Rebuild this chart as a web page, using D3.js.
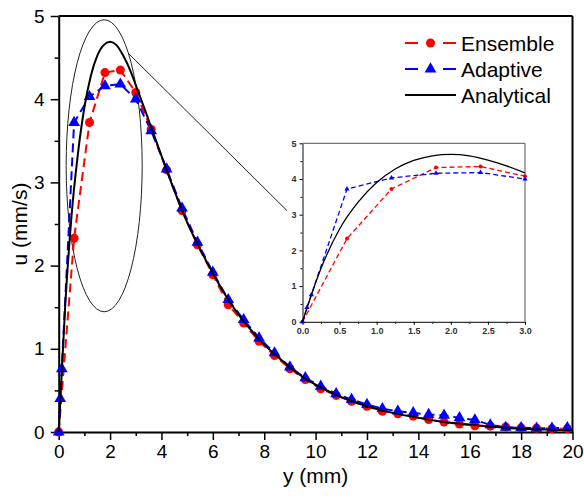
<!DOCTYPE html>
<html>
<head>
<meta charset="utf-8">
<script src="https://cdn.jsdelivr.net/npm/d3@7"></script>
<style>
  body { margin: 0; background: #fff; }
  text { font-family: "Liberation Sans", Arial, sans-serif; }
</style>
</head>
<body>
<div id="chart"></div>
<script>
// ensemble (red circles)
var ensY = [0, 0.6, 1.2, 1.8, 2.4, 3.0, 3.6, 4.2, 4.8, 5.4, 6.0, 6.6, 7.2, 7.8, 8.4, 9.0, 9.6, 10.2, 10.8, 11.4, 12.0, 12.6, 13.2, 13.8, 14.4, 15.0, 15.6, 16.2, 16.8, 17.4, 18.0, 18.6, 19.2, 19.8];
var ensU = [0, 2.33, 3.72, 4.32, 4.35, 4.08, 3.64, 3.15, 2.66, 2.25, 1.89, 1.53, 1.31, 1.09, 0.92, 0.76, 0.63, 0.52, 0.44, 0.37, 0.31, 0.25, 0.22, 0.19, 0.15, 0.12, 0.095, 0.075, 0.07, 0.06, 0.05, 0.045, 0.04, 0.04];
// adaptive (blue triangles)
var adpY = [0, 0.06, 0.12, 0.6, 1.2, 1.8, 2.4, 3.0, 3.6, 4.2, 4.8, 5.4, 6.0, 6.6, 7.2, 7.8, 8.4, 9.0, 9.6, 10.2, 10.8, 11.4, 12.0, 12.6, 13.2, 13.8, 14.4, 15.0, 15.6, 16.2, 16.8, 17.4, 18.0, 18.6, 19.2, 19.8];
var adpU = [0, 0.4, 0.76, 3.72, 4.03, 4.16, 4.18, 4.0, 3.62, 3.16, 2.69, 2.28, 1.92, 1.59, 1.35, 1.13, 0.95, 0.78, 0.65, 0.55, 0.46, 0.39, 0.33, 0.28, 0.25, 0.23, 0.21, 0.2, 0.17, 0.145, 0.085, 0.055, 0.05, 0.045, 0.045, 0.05];
// analytical (black line)
var anaY = [0, 0.25, 0.5, 0.75, 1.0, 1.25, 1.5, 1.75, 2.0, 2.25, 2.5, 2.75, 3.0, 3.5, 4.0, 4.5, 5.0, 5.5, 6.0, 6.5, 7.0, 7.5, 8.0, 8.5, 9.0, 9.5, 10.0, 10.5, 11.0, 11.5, 12.0, 13.0, 14.0, 15.0, 16.0, 17.0, 18.0, 19.0, 20.0];
var anaU = [0, 1.5, 2.6, 3.35, 3.9, 4.28, 4.52, 4.65, 4.69, 4.65, 4.53, 4.37, 4.17, 3.75, 3.32, 2.9, 2.52, 2.2, 1.91, 1.64, 1.41, 1.22, 1.05, 0.91, 0.78, 0.66, 0.57, 0.49, 0.42, 0.36, 0.31, 0.23, 0.17, 0.12, 0.09, 0.06, 0.04, 0.03, 0.02];

var xTicks = [0, 2, 4, 6, 8, 10, 12, 14, 16, 18, 20];
var yTicks = [0, 1, 2, 3, 4, 5];
var insetXTicks = [0, 0.5, 1.0, 1.5, 2.0, 2.5, 3.0];
var insetYTicks = [0, 1, 2, 3, 4, 5];
var seriesNames = ["Ensemble", "Adaptive", "Analytical"];

function zip(a, b) { return a.map(function (v, i) { return [v, b[i]]; }); }
var ens = zip(ensY, ensU), adp = zip(adpY, adpU), ana = zip(anaY, anaU);

var width = 584, height = 501;
var svg = d3.select("#chart").append("svg")
    .attr("width", width)
    .attr("height", height);

var x = d3.scaleLinear().domain([0, 20]).range([58.7, 572.5]);
var y = d3.scaleLinear().domain([0, 5]).range([432, 16]);

var RED = "#ff0000", BLUE = "#0000ff";

// minor ticks
svg.append("g")
    .attr("transform", "translate(0,432)")
    .call(d3.axisBottom(x).tickValues(d3.range(1, 20, 2)).tickSize(4).tickFormat(""))
    .call(function (g) { g.select(".domain").remove(); g.selectAll("line").attr("stroke-width", 1.5); });
svg.append("g")
    .attr("transform", "translate(58.7,0)")
    .call(d3.axisLeft(y).tickValues(d3.range(0.5, 5, 1)).tickSize(4).tickFormat(""))
    .call(function (g) { g.select(".domain").remove(); g.selectAll("line").attr("stroke-width", 1.5); });

// major axes
var xAxis = svg.append("g")
    .attr("transform", "translate(0,432)")
    .call(d3.axisBottom(x).tickValues(xTicks).tickSize(8).tickPadding(5).tickSizeOuter(0)
        .tickFormat(d3.format("d")));
var yAxis = svg.append("g")
    .attr("transform", "translate(58.7,0)")
    .call(d3.axisLeft(y).tickValues(yTicks).tickSize(8).tickPadding(6).tickSizeOuter(0)
        .tickFormat(d3.format("d")));
[xAxis, yAxis].forEach(function (g) {
    g.select(".domain").attr("stroke-width", 2);
    g.selectAll("line").attr("stroke-width", 1.5);
    g.selectAll("text").attr("font-size", 19).attr("fill", "#000")
        .attr("font-family", "Liberation Sans, Arial, sans-serif");
});

// frame top/right
svg.append("line").attr("x1", x(0)).attr("x2", x(20)).attr("y1", y(5)).attr("y2", y(5))
    .attr("stroke", "#000").attr("stroke-width", 2);
svg.append("line").attr("x1", x(20)).attr("x2", x(20)).attr("y1", y(5)).attr("y2", y(0))
    .attr("stroke", "#000").attr("stroke-width", 2);

// axis labels
svg.append("text")
    .attr("x", (x(0) + x(20)) / 2)
    .attr("y", 483)
    .attr("text-anchor", "middle")
    .attr("font-size", 21)
    .text("y (mm)");
svg.append("text")
    .attr("transform", "translate(27," + y(2.5) + ") rotate(-90)")
    .attr("text-anchor", "middle")
    .attr("font-size", 21)
    .text("u (mm/s)");

// zoom ellipse and connector
svg.append("ellipse")
    .attr("cx", x(1.77)).attr("cy", y(3.2))
    .attr("rx", x(1.48) - x(0)).attr("ry", y(0) - y(1.755))
    .attr("fill", "none").attr("stroke", "#222").attr("stroke-width", 1);
svg.append("line")
    .attr("x1", x(2.7)).attr("y1", y(4.555))
    .attr("x2", x(8.89)).attr("y2", y(2.66))
    .attr("stroke", "#222").attr("stroke-width", 1);

var line = d3.line().x(function (d) { return x(d[0]); }).y(function (d) { return y(d[1]); });

svg.append("path").datum(ens).attr("d", line)
    .attr("fill", "none").attr("stroke", RED).attr("stroke-width", 2).attr("stroke-dasharray", "9,5");
svg.append("path").datum(adp).attr("d", line)
    .attr("fill", "none").attr("stroke", BLUE).attr("stroke-width", 2).attr("stroke-dasharray", "9,5");

svg.selectAll(".ens-pt").data(ens).enter().append("circle")
    .attr("class", "ens-pt")
    .attr("cx", function (d) { return x(d[0]); })
    .attr("cy", function (d) { return y(d[1]); })
    .attr("r", 4.5).attr("fill", RED);
svg.selectAll(".adp-pt").data(adp).enter().append("path")
    .attr("class", "adp-pt")
    .attr("d", d3.symbol().type(d3.symbolTriangle).size(60))
    .attr("transform", function (d) { return "translate(" + x(d[0]) + "," + y(d[1]) + ")"; })
    .attr("fill", BLUE);

svg.append("path").datum(ana).attr("d", line.curve(d3.curveMonotoneX))
    .attr("fill", "none").attr("stroke", "#000").attr("stroke-width", 2);

// legend
var legend = svg.append("g");
seriesNames.forEach(function (name, i) {
    var ly = 43 + i * 26;
    var col = i === 0 ? RED : (i === 1 ? BLUE : "#000");
    if (i < 2) {
        legend.append("line").attr("x1", 405).attr("x2", 418).attr("y1", ly).attr("y2", ly)
            .attr("stroke", col).attr("stroke-width", 2);
        legend.append("line").attr("x1", 443).attr("x2", 456).attr("y1", ly).attr("y2", ly)
            .attr("stroke", col).attr("stroke-width", 2);
        if (i === 0) {
            legend.append("circle").attr("cx", 430.5).attr("cy", ly).attr("r", 4.5).attr("fill", col);
        } else {
            legend.append("path").attr("d", d3.symbol().type(d3.symbolTriangle).size(60))
                .attr("transform", "translate(430.5," + ly + ")").attr("fill", col);
        }
    } else {
        legend.append("line").attr("x1", 405).attr("x2", 456).attr("y1", ly).attr("y2", ly)
            .attr("stroke", col).attr("stroke-width", 2);
    }
    legend.append("text").attr("x", 461).attr("y", ly + 7.5)
        .attr("font-size", 21).text(name);
});

// inset
var ix = d3.scaleLinear().domain([0, 3]).range([302.5, 525]);
var iy = d3.scaleLinear().domain([0, 5]).range([321.8, 143.3]);
var inset = svg.append("g");
inset.append("g").attr("transform", "translate(0,321.8)")
    .call(d3.axisBottom(ix).tickValues(d3.range(0.25, 3, 0.5)).tickSize(2).tickFormat(""))
    .call(function (g) { g.select(".domain").remove(); });
inset.append("g").attr("transform", "translate(302.5,0)")
    .call(d3.axisLeft(iy).tickValues(d3.range(0.5, 5, 1)).tickSize(2).tickFormat(""))
    .call(function (g) { g.select(".domain").remove(); });
var ixAxis = inset.append("g").attr("transform", "translate(0,321.8)")
    .call(d3.axisBottom(ix).tickValues(insetXTicks).tickSize(3).tickPadding(3).tickSizeOuter(0)
        .tickFormat(d3.format(".1f")));
var iyAxis = inset.append("g").attr("transform", "translate(302.5,0)")
    .call(d3.axisLeft(iy).tickValues(insetYTicks).tickSize(3).tickPadding(3).tickSizeOuter(0)
        .tickFormat(d3.format("d")));
[ixAxis, iyAxis].forEach(function (g) {
    g.select(".domain").attr("stroke", "#333").attr("stroke-width", 1.2);
    g.selectAll("text").attr("font-size", 9).attr("font-weight", "bold").attr("fill", "#333")
        .attr("font-family", "Liberation Sans, Arial, sans-serif");
});
inset.append("line").attr("x1", ix(0)).attr("x2", ix(3)).attr("y1", iy(5)).attr("y2", iy(5))
    .attr("stroke", "#555").attr("stroke-width", 1);
inset.append("line").attr("x1", ix(3)).attr("x2", ix(3)).attr("y1", iy(5)).attr("y2", iy(0))
    .attr("stroke", "#555").attr("stroke-width", 1);

function inRange(d) { return d[0] <= 3.0001; }
var iline = d3.line().x(function (d) { return ix(d[0]); }).y(function (d) { return iy(d[1]); });
inset.append("path").datum(ens.filter(inRange)).attr("d", iline)
    .attr("fill", "none").attr("stroke", RED).attr("stroke-width", 1.3).attr("stroke-dasharray", "5,3");
inset.append("path").datum(adp.filter(inRange)).attr("d", iline)
    .attr("fill", "none").attr("stroke", BLUE).attr("stroke-width", 1.3).attr("stroke-dasharray", "5,3");
inset.selectAll(".iens").data(ens.filter(inRange)).enter().append("circle")
    .attr("cx", function (d) { return ix(d[0]); })
    .attr("cy", function (d) { return iy(d[1]); })
    .attr("r", 2).attr("fill", RED);
inset.selectAll(".iadp").data(adp.filter(inRange)).enter().append("path")
    .attr("d", d3.symbol().type(d3.symbolTriangle).size(12))
    .attr("transform", function (d) { return "translate(" + ix(d[0]) + "," + iy(d[1]) + ")"; })
    .attr("fill", BLUE);
inset.append("path").datum(ana.filter(inRange))
    .attr("d", iline.curve(d3.curveMonotoneX))
    .attr("fill", "none").attr("stroke", "#000").attr("stroke-width", 1.3);
</script>
</body>
</html>
